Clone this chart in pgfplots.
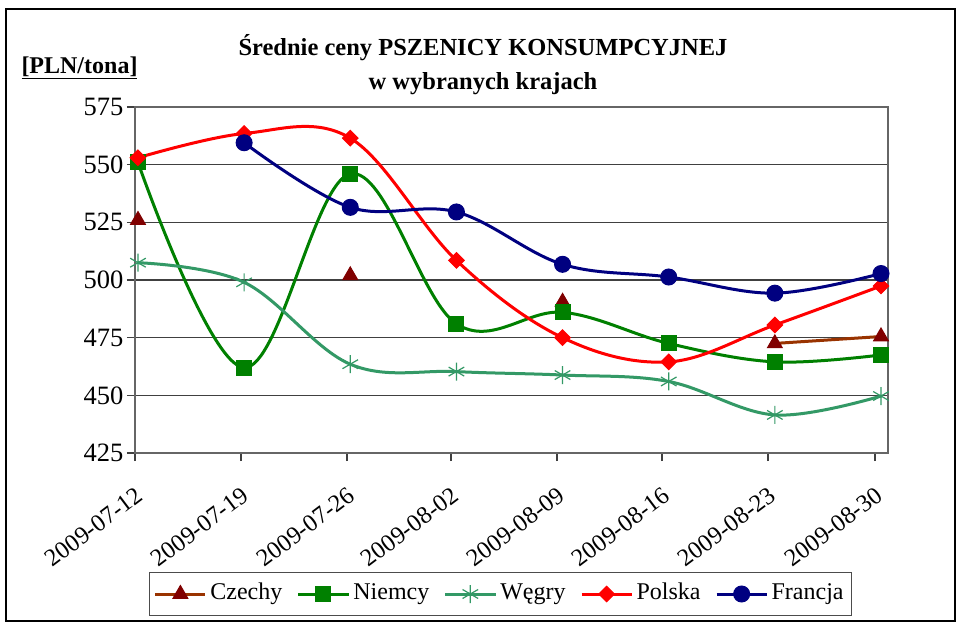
\documentclass[border=0pt]{standalone}
\usepackage{fontspec}
\setmainfont{Liberation Serif}
\usepackage{pgfplots}
\pgfplotsset{compat=1.18}
\definecolor{czmark}{RGB}{128,0,0}
\definecolor{czline}{RGB}{153,51,0}
\definecolor{niem}{RGB}{0,128,0}
\definecolor{weg}{RGB}{51,153,102}
\definecolor{pol}{RGB}{255,0,0}
\definecolor{fra}{RGB}{0,0,128}
\begin{document}
\begin{tikzpicture}[x=1pt,y=1pt]
\useasboundingbox (0,0) rectangle (957,624);
\fill[white] (0,0) rectangle (957,624);
\draw[black, line width=2pt] (6,3) rectangle (955,615);
\node[font=\bfseries\fontsize{24.5}{28}\selectfont, anchor=base] at (483,568) {Średnie ceny PSZENICY KONSUMPCYJNEJ};
\node[font=\bfseries\fontsize{24.5}{28}\selectfont, anchor=base] at (483,534) {w wybranych krajach};
\node[font=\bfseries\fontsize{24}{28}\selectfont, anchor=base, inner sep=0pt] at (79.5,550) {\underline{[PLN/tona]}};
\begin{axis}[
  at={(135pt,171pt)}, anchor=south west,
  scale only axis, width=753pt, height=346pt,
  xmin=-0.028, xmax=7.066, ymin=425, ymax=575,
  ytick={425,450,...,575},
  xtick={-0.028,0.970,1.969,2.949,3.948,4.937,5.936,6.943},
  xticklabels={2009-07-12,2009-07-19,2009-07-26,2009-08-02,2009-08-09,2009-08-16,2009-08-23,2009-08-30},
  xtick pos=bottom, ytick pos=left,
  tick align=outside, major tick length=8pt,
  tick style={black!75, line width=1.3pt},
  ymajorgrids, grid style={black!75, line width=1.2pt},
  axis line style={black!60, line width=1.3pt},
  /pgf/number format/assume math mode=true,
  yticklabel style={font=\fontsize{26.5}{30}\selectfont},
  xticklabel shift=20pt,
  xticklabel style={font=\fontsize{24.5}{28}\selectfont, rotate=37, anchor=north east},
  unbounded coords=jump,
  clip=false,
  legend columns=5,
  legend style={at={(0.4854,-0.4075)}, anchor=center, draw=black!70, line width=1.3pt,
    font=\fontsize{24}{28}\selectfont, inner xsep=4.5pt, inner ysep=8pt,
    nodes={inner xsep=3.5pt, inner ysep=2pt, text height=17pt, text depth=6pt},
    /tikz/every even column/.append style={column sep=11pt}},
  legend image code/.code={\draw[mark repeat=2,mark phase=2,#1] plot coordinates {(0pt,0pt) (25pt,0pt) (50pt,0pt)};},
]
\addplot[czline, line width=3pt, mark=triangle*, mark size=8.5pt, mark options={draw=czmark, fill=czmark, line width=1pt}]
  coordinates {(0,526) (1,nan) (2,502) (3,nan) (4,490.5) (5,nan) (6,472.5) (7,475.5)};
\addlegendentry{Czechy}
\addplot[niem, line width=3pt, smooth, tension=0.6, mark=square*, mark size=7.5pt, mark options={draw=niem, fill=niem, line width=1pt}]
  coordinates {(0,551) (1,462) (2,546) (3,481) (4,486) (5,472.5) (6,464.5) (7,467.5)};
\addlegendentry{Niemcy}
\addplot[weg, line width=3pt, smooth, tension=0.6, mark=asterisk, mark size=9pt, mark options={draw=weg, line width=1.2pt}]
  coordinates {(0,507.5) (1,499) (2,463.5) (3,460.3) (4,458.8) (5,456) (6,441.5) (7,449.7)};
\addlegendentry{Węgry}
\addplot[pol, line width=3pt, smooth, tension=0.6, mark=square*, mark size=5.5pt, mark options={draw=pol, fill=pol, rotate=45, line width=1pt}]
  coordinates {(0,553) (1,563.5) (2,561.5) (3,508.5) (4,475) (5,464.5) (6,480.5) (7,497.4)};
\addlegendentry{Polska}
\addplot[fra, line width=3pt, smooth, tension=0.6, mark=*, mark size=8pt, mark options={draw=fra, fill=fra, line width=1pt}]
  coordinates {(1,559.5) (2,531.5) (3,529.5) (4,506.8) (5,501.3) (6,494.3) (7,502.8)};
\addlegendentry{Francja}
\end{axis}
\end{tikzpicture}
\end{document}
